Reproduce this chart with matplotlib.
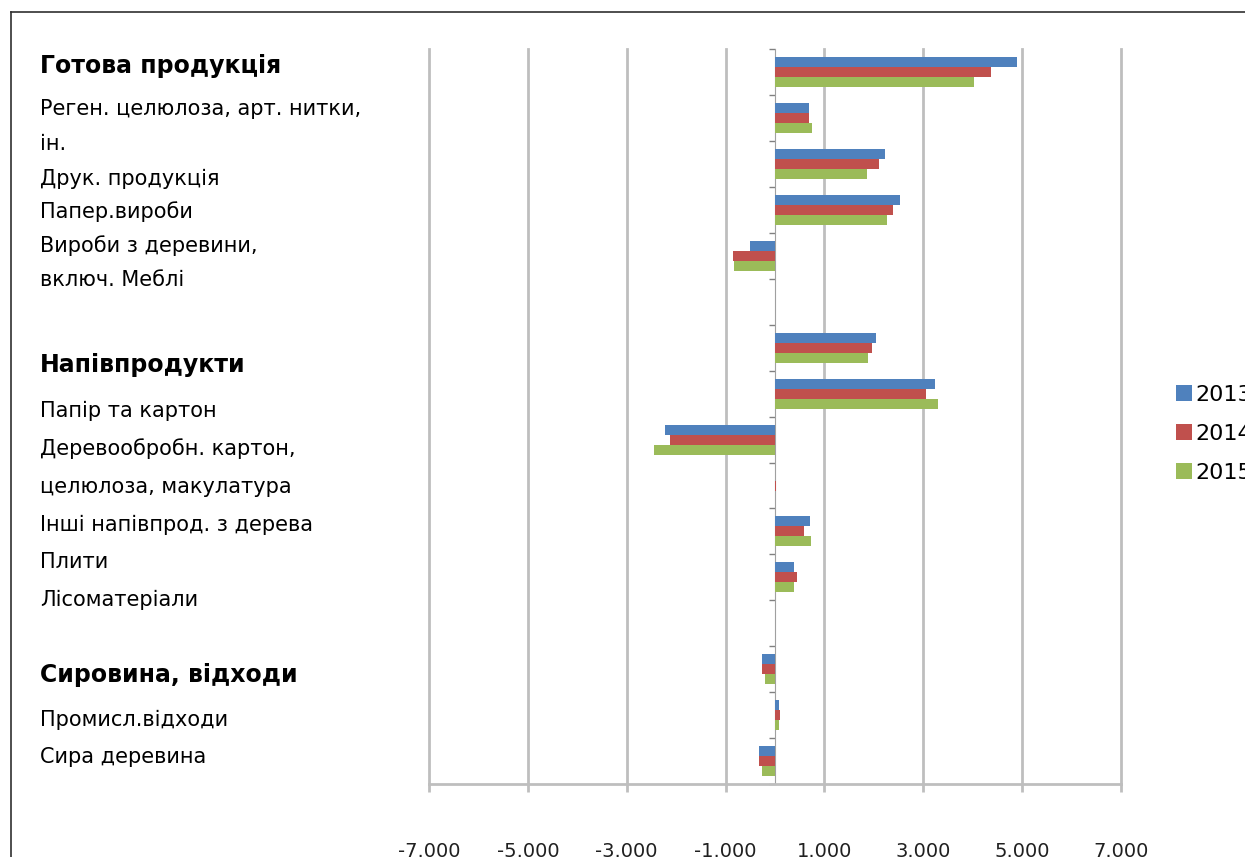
import numpy as np
import matplotlib
matplotlib.use("Agg")
import matplotlib.pyplot as plt
from matplotlib.lines import Line2D
from matplotlib.ticker import FuncFormatter

plt.rcParams['font.family'] = ['DejaVu Sans']

# 16 slots top->bottom, empty slots separate the groups
nan = np.nan
y2013 = [4900, 690, 2230, 2530, -500, nan, 2050, 3230, -2220, 0, 700, 380, nan, -260, 80, -320]
y2014 = [4360, 690, 2100, 2390, -850, nan, 1960, 3060, -2120, 20, 590, 450, nan, -260, 100, -320]
y2015 = [4030, 740, 1860, 2260, -820, nan, 1890, 3300, -2440, 0, 730, 380, nan, -210, 80, -270]
years = ['2013', '2014', '2015']
colors = ['#4F81BD', '#C0504D', '#9BBB59']

x_ticks = [-7000, -5000, -3000, -1000, 1000, 3000, 5000, 7000]

# left-hand text block: (text, baseline y in px, bold)
left_texts = [
    ("Готова продукція", 73, True),
    ("Реген. целюлоза, арт. нитки,", 115, False),
    ("ін.", 150, False),
    ("Друк. продукція", 185, False),
    ("Папер.вироби", 218, False),
    ("Вироби з деревини,", 252, False),
    ("включ. Меблі", 286, False),
    ("Напівпродукти", 372, True),
    ("Папір та картон", 417, False),
    ("Деревообробн. картон,", 455, False),
    ("целюлоза, макулатура", 493, False),
    ("Інші напівпрод. з дерева", 531, False),
    ("Плити", 568, False),
    ("Лісоматеріали", 606, False),
    ("Сировина, відходи", 682, True),
    ("Промисл.відходи", 726, False),
    ("Сира деревина", 763, False),
]

W, H = 1245, 857
fig = plt.figure(figsize=(W / 100, H / 100), dpi=100)
ax = fig.add_axes([429 / W, 1 - 784 / H, (1121 - 429) / W, (784 - 49.3) / H])

n = len(y2013)
pos = np.arange(n)
bh = 0.218
for i, (vals, col, lab) in enumerate(zip([y2013, y2014, y2015], colors, years)):
    ax.barh(pos + (i - 1) * bh, vals, height=bh, color=col, edgecolor='none',
            label=lab, zorder=3)

ax.set_xlim(-7000, 7000)
ax.set_ylim(n - 0.5, -0.5)
ax.set_xticks(x_ticks)
ax.xaxis.set_major_formatter(FuncFormatter(lambda v, p: f"{int(v):,}".replace(",", ".")))
ax.set_yticks(np.arange(n + 1) - 0.5)
ax.set_yticklabels([])
ax.grid(axis='x', color='#BEBEBE', linewidth=2, zorder=0)
ax.grid(axis='y', visible=False)
# edge gridlines at +-7000 should not be half clipped
for gl in ax.get_xgridlines():
    gl.set_clip_on(False)

for s in ['top', 'right']:
    ax.spines[s].set_visible(False)
ax.spines['left'].set_position(('data', 0))
ax.spines['left'].set_color('#A0A0A0')
ax.spines['left'].set_zorder(2)
ax.spines['bottom'].set_color('#BEBEBE')
ax.spines['bottom'].set_linewidth(2)
ax.tick_params(axis='y', direction='out', length=4, color='#808080', width=1)
ax.tick_params(axis='x', direction='out', length=6, color='#BEBEBE', width=2,
               pad=36, labelsize=14, labelcolor='#202020')

for txt, yb, bold in left_texts:
    fig.text(40 / W, 1 - yb / H, txt, ha='left', va='baseline',
             fontsize=17 if bold else 15, fontweight='bold' if bold else 'normal',
             color='black')

fig.legend(loc='upper left', bbox_to_anchor=(1176 / W, 1 - 385 / H), frameon=False,
           fontsize=16, handlelength=0.7, handleheight=0.7, handletextpad=0.15,
           labelspacing=0.85, borderpad=0, borderaxespad=0)

# frame lines of the original chart box
fig.add_artist(Line2D([11 / W, 11 / W], [0, 1 - 12 / H], transform=fig.transFigure,
                      color='#303030', linewidth=1.2))
fig.add_artist(Line2D([11 / W, 1], [1 - 12 / H, 1 - 12 / H], transform=fig.transFigure,
                      color='#303030', linewidth=1.2))

fig.savefig("out.png", dpi=100)
